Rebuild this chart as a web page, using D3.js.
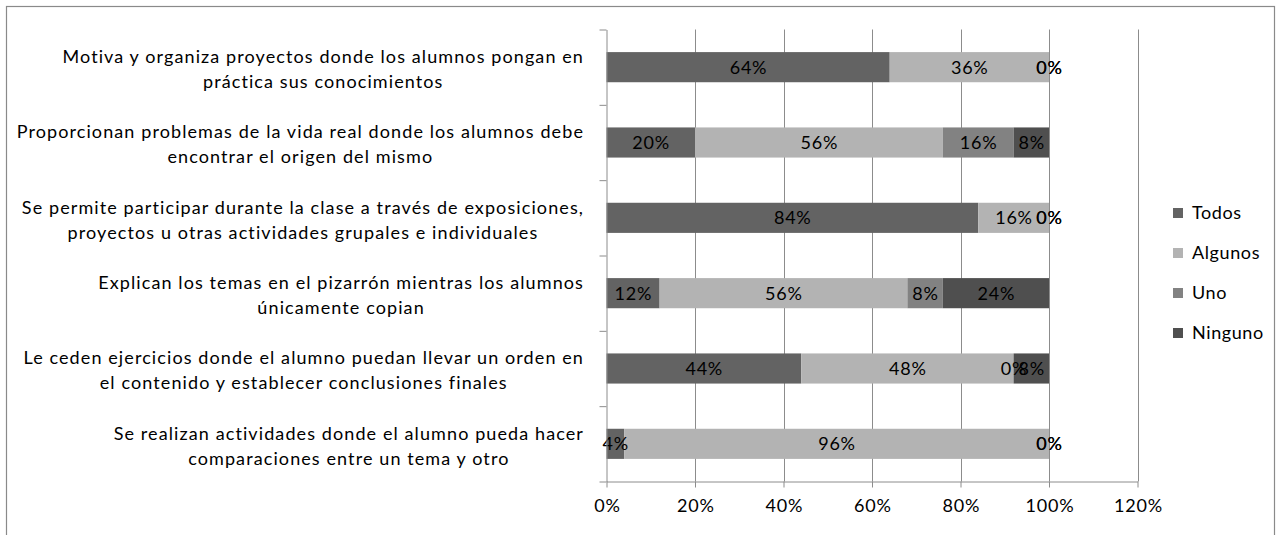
<!DOCTYPE html>
<html>
<head>
<meta charset="utf-8">
<script src="https://cdn.jsdelivr.net/npm/d3@7"></script>
<style>
  html, body { margin: 0; padding: 0; background: #fff; }
  svg { display: block; }
  text { font-family: Lato, "Open Sans", sans-serif; }
</style>
</head>
<body>
<svg id="chart" width="1282" height="535"></svg>
<script>
const categories = [
  "Motiva y organiza proyectos donde los alumnos  pongan en\npráctica sus conocimientos",
  "Proporcionan problemas de la vida real donde los alumnos  debe\nencontrar el origen del mismo",
  "Se permite participar durante la clase a través de exposiciones,\nproyectos u otras actividades grupales e individuales",
  "Explican los temas en el pizarrón mientras los alumnos\núnicamente copian",
  "Le ceden ejercicios donde el alumno  puedan llevar un orden en\nel contenido y establecer conclusiones finales",
  "Se realizan actividades donde el alumno pueda hacer\ncomparaciones entre un tema y otro"
];
const seriesNames = ["Todos", "Algunos", "Uno", "Ninguno"];
const todos   = [64, 20, 84, 12, 44, 4];
const algunos = [36, 56, 16, 56, 48, 96];
const uno     = [0, 16, 0, 8, 0, 0];
const ninguno = [0, 8, 0, 24, 8, 0];
const xTicks  = [0, 20, 40, 60, 80, 100, 120];
const seriesColors = ["#636363", "#b3b3b3", "#828282", "#4f4f4f"];

const seriesValues = [todos, algunos, uno, ninguno];
const table = categories.map((c, i) => {
  const row = { category: c };
  seriesNames.forEach((s, j) => row[s] = seriesValues[j][i]);
  return row;
});
const stacked = d3.stack().keys(seriesNames)(table);

const svg = d3.select("#chart");
const pLeft = 606.5, pRight = 1137.5, pTop = 29.5, pBottom = 481.5;
const FS = 18, LS = 0.8;

const x = d3.scaleLinear().domain([0, 120]).range([pLeft, pRight]);
const y = d3.scaleBand().domain(categories).range([pTop, pBottom]).paddingInner(0.6).paddingOuter(0.3);
const color = d3.scaleOrdinal().domain(seriesNames).range(seriesColors);

// outer border
svg.append("rect").attr("x", 6.5).attr("y", 6.5).attr("width", 1268).attr("height", 540)
  .attr("fill", "none").attr("stroke", "#8a8a8a").attr("stroke-width", 1.2);

// gridlines
svg.append("g").selectAll("line").data(xTicks.slice(1)).join("line")
  .attr("x1", d => Math.round(x(d)) + 0.5).attr("x2", d => Math.round(x(d)) + 0.5)
  .attr("y1", pTop).attr("y2", pBottom)
  .attr("stroke", "#8c8c8c").attr("stroke-width", 1);

// bars
const layers = svg.append("g").selectAll("g").data(stacked).join("g")
  .attr("fill", d => color(d.key));
layers.selectAll("rect").data(d => d).join("rect")
  .attr("x", d => x(d[0]))
  .attr("width", d => x(d[1]) - x(d[0]))
  .attr("y", d => y(d.data.category))
  .attr("height", y.bandwidth());

// data labels
const labels = svg.append("g");
stacked.forEach(layer => {
  labels.append("g").selectAll("text").data(layer).join("text")
    .attr("x", d => (x(d[0]) + x(d[1])) / 2 + LS / 2)
    .attr("y", d => y(d.data.category) + y.bandwidth() / 2)
    .attr("dy", "0.36em")
    .attr("text-anchor", "middle")
    .attr("font-size", FS)
    .attr("letter-spacing", LS)
    .attr("fill", "#000")
    .text(d => (d[1] - d[0]) + "%");
});

// bottom axis
const xAxis = d3.axisBottom(x).tickValues(xTicks).tickFormat(d => d + "%").tickSizeInner(6).tickSizeOuter(0).tickPadding(12);
const gx = svg.append("g").attr("transform", `translate(0,${pBottom})`).call(xAxis);
gx.select(".domain").attr("stroke", "#8c8c8c");
gx.selectAll(".tick line").attr("stroke", "#8c8c8c");
gx.selectAll(".tick text").attr("font-size", FS).attr("letter-spacing", LS).attr("fill", "#000")
  .attr("dx", LS / 2).style("font-family", "Lato, sans-serif");

// left axis (category separators)
const yb = d3.scaleLinear().domain([0, categories.length]).range([pTop, pBottom]);
const yAxis = d3.axisLeft(yb).tickValues(d3.range(categories.length + 1)).tickFormat("").tickSizeInner(7).tickSizeOuter(0);
const gy = svg.append("g").attr("transform", `translate(${pLeft},0)`).call(yAxis);
gy.select(".domain").attr("stroke", "#8c8c8c");
gy.selectAll(".tick line").attr("stroke", "#8c8c8c");

// category labels
const catG = svg.append("g");
categories.forEach(c => {
  const lines = c.split("\n");
  const cy = y(c) + y.bandwidth() / 2 + 2;
  const t = catG.append("text").attr("font-size", FS).attr("letter-spacing", 1.1)
    .attr("fill", "#000").attr("text-anchor", "middle");
  const spans = lines.map((ln, i) => t.append("tspan")
    .attr("y", cy + (i - (lines.length - 1) / 2) * 25)
    .attr("dy", "0.36em")
    .text(ln));
  const maxW = d3.max(spans, s => s.node().getComputedTextLength());
  spans.forEach(s => s.attr("x", 584 - maxW / 2));
});

// legend
const legend = svg.append("g").selectAll("g").data(seriesNames).join("g")
  .attr("transform", (d, i) => `translate(1173,${213 + i * 40})`);
legend.append("rect").attr("x", 0).attr("y", -5).attr("width", 10).attr("height", 10)
  .attr("fill", d => color(d));
legend.append("text").attr("x", 19).attr("y", 0).attr("dy", "0.36em")
  .attr("font-size", FS).attr("letter-spacing", 0.6).attr("fill", "#000").text(d => d);
</script>
</body>
</html>
